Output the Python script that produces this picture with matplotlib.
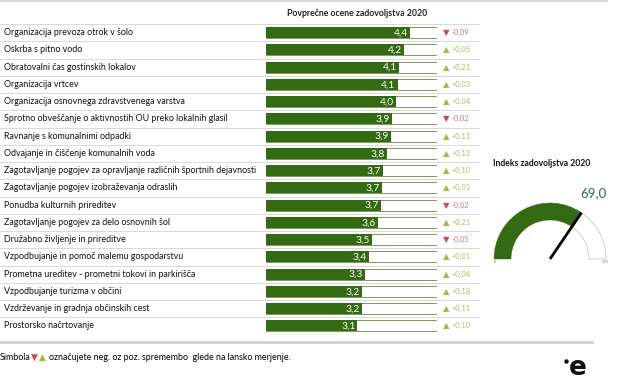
import matplotlib
matplotlib.use('Agg')
import matplotlib.pyplot as plt
from matplotlib.patches import Wedge
import numpy as np

# Data
categories = [
    'Organizacija prevoza otrok v šolo',
    'Oskrba s pitno vodo',
    'Obratovalni čas gostinskih lokalov',
    'Organizacija vrtcev',
    'Organizacija osnovnega zdravstvenega varstva',
    'Sprotno obveščanje o aktivnostih OU preko lokalnih glasil',
    'Ravnanje s komunalnimi odpadki',
    'Odvajanje in čiščenje komunalnih voda',
    'Zagotavljanje pogojev za opravljanje različnih športnih dejavnosti',
    'Zagotavljanje pogojev izobraževanja odraslih',
    'Ponudba kulturnih prireditev',
    'Zagotavljanje pogojev za delo osnovnih šol',
    'Družabno življenje in prireditve',
    'Vzpodbujanje in pomoč malemu gospodarstvu',
    'Prometna ureditev - prometni tokovi in parkirišča',
    'Vzpodbujanje turizma v občini',
    'Vzdrževanje in gradnja občinskih cest',
    'Prostorsko načrtovanje',
]
scores = [4.38, 4.23, 4.11, 4.08, 4.04, 3.94, 3.92, 3.83, 3.73, 3.71, 3.69,
          3.62, 3.48, 3.41, 3.31, 3.24, 3.24, 3.14]
changes = [-0.09, 0.05, 0.21, 0.03, 0.04, -0.02, 0.11, 0.12, 0.10, 0.03, -0.02,
           0.21, -0.05, 0.01, 0.04, 0.18, 0.11, 0.10]
scale_min, scale_max = 1, 5
index_value = 69.0
index_max = 100

GREEN = '#336a12'
RED = '#d2455c'
RED_TXT = '#d8708a'
OLIVE = '#a8b838'
OLIVE_TXT = '#b0bd5e'
FONT = 'Lato'

W, H = 638, 383
fig = plt.figure(figsize=(W / 100, H / 100), dpi=100)


def px_axes(x, y, w, h):
    return fig.add_axes([x / W, 1 - (y + h) / H, w / W, h / H])


# background / decorations in pixel coordinates
bg = px_axes(0, 0, W, H)
bg.set_xlim(0, W)
bg.set_ylim(H, 0)
bg.axis('off')
bg.plot([0, 607], [1, 1], color='#d9d9d9', lw=1.5)
bg.plot([0, 592], [342, 342], color='#d0d0d0', lw=2)
bg.text(357, 14, 'Povprečne ocene zadovoljstva 2020', ha='center', va='center',
        fontsize=6.3, fontweight='bold', family=FONT, color='#222222')

# footer
bg.text(0, 357, 'Simbola', ha='left', va='center', fontsize=6.4, family=FONT)
bg.text(31, 357, '▼', ha='left', va='center', fontsize=6.5, color=RED,
        family='DejaVu Sans')
bg.text(39, 357, '▲', ha='left', va='center', fontsize=6.5, color=OLIVE,
        family='DejaVu Sans')
bg.text(49, 357, 'označujete neg. oz poz. spremembo  glede na lansko merjenje.',
        ha='left', va='center', fontsize=6.4, family=FONT)

# logo
bg.text(577.5, 368, 'e', ha='center', va='center', fontsize=19, fontweight='bold',
        family='DejaVu Sans', color='#111111')
bg.plot([566], [361], 'o', ms=2.2, color='#111111')

n = len(categories)
rows_top, row_h = 24, 17.25
rows_bottom = rows_top + n * row_h

# row labels and separators
ax_rows = px_axes(0, rows_top, 480, rows_bottom - rows_top)
ax_rows.set_xlim(0, 480)
ax_rows.set_ylim(n - 0.5, -0.5)
ax_rows.axis('off')
for i in range(n + 1):
    ax_rows.axhline(i - 0.5, color='#d9d9d9', lw=0.7)
for i, cat in enumerate(categories):
    ax_rows.text(4, i, cat, ha='left', va='center', fontsize=6.4, family=FONT,
                 color='#111111')

# bars
ax = px_axes(266, rows_top, 171, rows_bottom - rows_top)
ax.set_xlim(scale_min, scale_max)
ax.set_ylim(n - 0.5, -0.5)
ax.axis('off')
y = np.arange(n)
ax.barh(y, [scale_max - scale_min] * n, left=scale_min, height=0.64,
        color='white', edgecolor='#7a9a5c', lw=0.7)
ax.barh(y, np.array(scores) - scale_min, left=scale_min, height=0.64,
        color=GREEN, edgecolor='none')
for i, (s, c) in enumerate(zip(scores, changes)):
    ax.annotate(f'{s:.1f}'.replace('.', ','), (s, i), xytext=(-1.5, -0.3),
                textcoords='offset points', ha='right', va='center',
                fontsize=7.4, family=FONT, color='white')
    if c < 0:
        sym, col, tcol = '▼', RED, RED_TXT
        txt = f'{c:.2f}'.replace('.', ',')
    else:
        sym, col, tcol = '▲', OLIVE, OLIVE_TXT
        txt = f'+{c:.2f}'.replace('.', ',')
    ax.annotate(sym, (scale_max, i), xytext=(4, 0), textcoords='offset points',
                ha='left', va='center', fontsize=6, color=col,
                family='DejaVu Sans', annotation_clip=False)
    ax.annotate(txt, (scale_max, i), xytext=(10.5, 0), textcoords='offset points',
                ha='left', va='center', fontsize=5.4, color=tcol,
                family=FONT, annotation_clip=False)

# gauge
bg.text(493, 164, 'Indeks zadovoljstva 2020', ha='left', va='center',
        fontsize=6.2, fontweight='bold', family=FONT, color='#111111')
bg.text(593, 193, f'{index_value:.1f}'.replace('.', ','), ha='center',
        va='center', fontsize=9.5, family=FONT, color='#2e6a4c')

gx, gy = 550, 259
ga = px_axes(gx - 60, gy - 66, 120, 80)
ga.set_xlim(-60, 60)
ga.set_ylim(-14, 66)
ga.axis('off')
r_out, r_w = 56, 17
ang = 180 - index_value / index_max * 180
ga.add_patch(Wedge((0, 0), r_out, 0, ang, width=r_w, facecolor='white',
                   edgecolor='#c8c8c8', lw=0.6))
ga.add_patch(Wedge((0, 0), r_out, ang, 180, width=r_w, facecolor=GREEN,
                   edgecolor=GREEN, lw=0.3))
t = np.deg2rad(ang)
ga.plot([0, r_out * np.cos(t)], [0, r_out * np.sin(t)], color='black', lw=2,
        solid_capstyle='butt')
ga.text(-r_out + 1, -3, '0', ha='center', va='center', fontsize=2.5,
        color='#666666')
ga.text(r_out - 1, -3, str(index_max), ha='center', va='center', fontsize=2.5,
        color='#666666')

fig.savefig('out.png', dpi=100)
